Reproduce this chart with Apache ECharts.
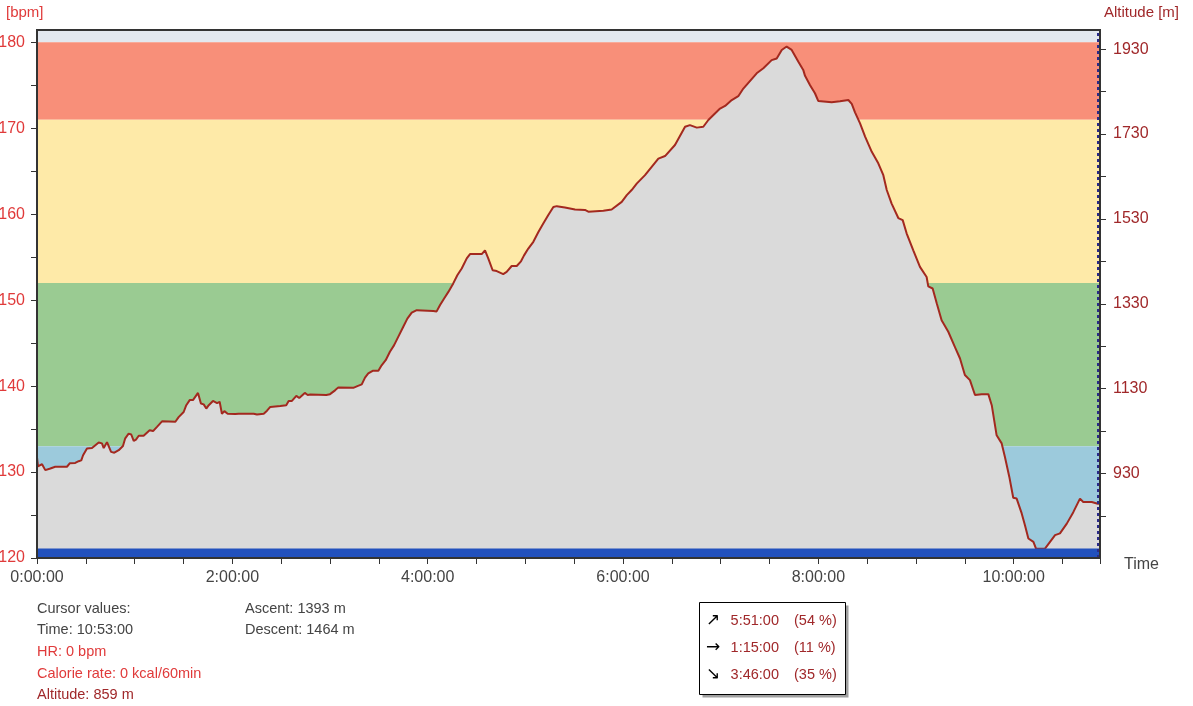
<!DOCTYPE html>
<html>
<head>
<meta charset="utf-8">
<script src="https://cdn.jsdelivr.net/npm/echarts@6/dist/echarts.min.js"></script>
<style>
html,body{margin:0;padding:0;background:#fff;}
#chart{width:1193px;height:706px;}
</style>
</head>
<body>
<div id="chart"></div>
<script>
// ---- data ----
const timeMin = [0,0.6,3.1,5.1,8.2,11.2,18.4,20.1,23.5,25.6,27.2,28.3,30.7,33.8,37.9,39.9,41.0,43.0,44.0,45.5,47.5,50.2,52.8,54.2,56.3,57.9,59.4,60.8,62.5,65.5,69.2,71.3,73.7,76.8,85.0,87.0,90.1,91.7,93.8,95.8,98.9,100.7,102.4,104.0,105.5,108.1,110.6,112.2,113.6,115.1,117.1,121.8,123.9,133.1,135.1,139.3,141.3,143.3,149.5,153.1,154.6,156.6,159.3,161.1,164.5,166.3,167.9,168.9,177.7,180.0,183.1,185.1,194.3,196.8,199.5,201.5,203.5,206.2,209.7,211.7,214.2,216.8,219.3,221.9,225.0,227.5,230.2,233.3,243.4,245.5,247.6,250.0,252.7,255.7,258.2,260.9,264.0,266.0,273.2,275.2,277.2,279.9,282.4,286.4,288.5,291.6,294.7,297.3,299.2,301.8,304.9,308.0,311.0,314.1,317.2,319.3,324.3,330.5,336.6,338.7,347.9,353.0,359.2,362.3,365.3,368.4,373.5,381.7,385.8,391.9,398.1,401.1,405.3,409.3,412.4,419.6,422.7,426.8,430.8,433.9,442.1,446.2,451.3,454.4,457.5,460.5,463.6,467.7,470.7,471.8,474.9,477.9,479.9,488.2,493.3,498.4,500.5,502.5,505.6,508.7,512.8,516.8,519.9,522.0,525.0,529.1,531.8,534.2,538.3,542.4,546.5,547.5,550.2,552.7,555.7,559.8,563.9,567.0,570.0,573.1,576.2,580.3,584.4,586.5,589.5,592.6,594.6,597.3,599.7,601.8,604.9,606.9,609.0,612.1,613.7,619.2,622.3,625.4,628.4,632.6,636.6,640.7,642.7,647.9,651.6,653];
const altitude = [968,947,952,938,942,946,946,954,955,959,961,973,989,990,1003,1001,990,1004,1003,981,979,985,995,1013,1024,1022,1007,1010,1019,1019,1032,1030,1040,1053,1052,1063,1075,1091,1103,1103,1120,1095,1093,1083,1091,1101,1096,1099,1071,1077,1071,1070,1071,1071,1069,1071,1078,1087,1089,1091,1101,1101,1113,1108,1120,1115,1116,1113,1115,1117,1126,1133,1132,1136,1140,1156,1166,1172,1172,1185,1197,1217,1232,1252,1276,1295,1309,1315,1313,1312,1327,1342,1358,1378,1397,1413,1437,1447,1447,1456,1437,1409,1407,1400,1405,1419,1419,1430,1444,1460,1476,1499,1519,1539,1558,1560,1557,1552,1551,1547,1549,1552,1570,1586,1598,1613,1633,1672,1678,1704,1747,1751,1745,1747,1763,1790,1796,1810,1819,1837,1873,1885,1904,1908,1928,1936,1928,1900,1881,1867,1845,1826,1808,1805,1807,1810,1801,1781,1755,1724,1688,1661,1633,1598,1566,1532,1527,1496,1456,1417,1393,1371,1366,1331,1291,1264,1228,1201,1162,1150,1115,1117,1117,1091,1020,1001,969,922,873,871,836,808,777,769,753,753,769,785,789,812,839,871,863,863,859,859];

const timeTicks = [0,30,60,90,120,150,180,210,240,270,300,330,360,390,420,450,480,510,540,570,600,630,653];
const timeLabels = [0,120,240,360,480,600];
const bpmTicks = [120,125,130,135,140,145,150,155,160,165,170,175,180];
const bpmLabels = [120,130,140,150,160,170,180];
const altTicks = [830,930,1030,1130,1230,1330,1430,1530,1630,1730,1830,1930];
const altLabels = [930,1130,1330,1530,1730,1930];

const zoneFrom = [180,171,152,133,121];
const zoneTo = [181.43,180,171,152,133];
const zoneColors = ['#e3e8ef','#f88f79','#feeaa8','#9acb92','#9ccadc'];
const bandFrom = 120, bandTo = 121.1, bandColor = '#2251bd';

const cursorTime = 651.8;

const infoLeft = [
  ['Cursor values:', '#444444'],
  ['Time: 10:53:00', '#444444'],
  ['HR: 0 bpm', '#e03a3a'],
  ['Calorie rate: 0 kcal/60min', '#e03a3a'],
  ['Altitude: 859 m', '#a0282a']
];
const infoRight = ['Ascent: 1393 m', 'Descent: 1464 m'];
const boxArrows = ['\u2197', '\u2192', '\u2198'];
const boxTimes = ['5:51:00', '1:15:00', '3:46:00'];
const boxPct = ['(54 %)', '(11 %)', '(35 %)'];

// ---- chart ----
const FONT = '"Liberation Sans", Arial, sans-serif';
const chart = echarts.init(document.getElementById('chart'), null, {renderer: 'canvas'});
const pad = n => (n < 10 ? '0' : '') + n;
const fmtTime = v => Math.floor(v / 60) + ':' + pad(Math.round(v % 60)) + ':00';

const data = timeMin.map((t, i) => [t, altitude[i]]);
const zoneAreas = zoneFrom.map((f, i) => [
  {yAxis: f, itemStyle: {color: zoneColors[i], opacity: 1}},
  {yAxis: zoneTo[i]}
]);

const graphics = [];
infoLeft.forEach((it, i) => {
  graphics.push({type: 'text', left: 37, top: 601 + i * 21.7,
    style: {text: it[0], fill: it[1], font: '14.5px ' + FONT}});
});
infoRight.forEach((t, i) => {
  graphics.push({type: 'text', left: 245, top: 601 + i * 21.7,
    style: {text: t, fill: '#444444', font: '14.5px ' + FONT}});
});
graphics.push({type: 'rect', shape: {x: 702.5, y: 605.5, width: 146, height: 92}, style: {fill: '#a0a0a0'}, z: 10});
graphics.push({type: 'rect', shape: {x: 699.5, y: 602.5, width: 146, height: 92}, style: {fill: '#ffffff', stroke: '#000000', lineWidth: 1}, z: 11});
boxArrows.forEach((a, i) => {
  const y = 621 + i * 27;
  graphics.push({type: 'text', x: 713, y: y, z: 12,
    style: {text: a, fill: '#000', font: '17px "DejaVu Sans", sans-serif', align: 'center', verticalAlign: 'middle'}});
  graphics.push({type: 'text', x: 779, y: y, z: 12,
    style: {text: boxTimes[i], fill: '#a0282a', font: '14.5px ' + FONT, align: 'right', verticalAlign: 'middle'}});
  graphics.push({type: 'text', x: 794, y: y, z: 12,
    style: {text: boxPct[i], fill: '#a0282a', font: '14.5px ' + FONT, align: 'left', verticalAlign: 'middle'}});
});
graphics.push({type: 'text', left: 6, top: 5, style: {text: '[bpm]', fill: '#e03a3a', font: '15px ' + FONT}});
graphics.push({type: 'text', left: 1104, top: 5, style: {text: 'Altitude [m]', fill: '#a0282a', font: '15px ' + FONT}});
graphics.push({type: 'text', left: 1124, top: 557, style: {text: 'Time', fill: '#444444', font: '16px ' + FONT}});

chart.setOption({
  animation: false,
  backgroundColor: '#ffffff',
  grid: {left: 37, right: 93, top: 30, bottom: 148, outerBoundsMode: 'none', containLabel: false,
         show: true, borderColor: '#333333', borderWidth: 2, backgroundColor: 'transparent', z: 10},
  xAxis: {
    type: 'value', min: 0, max: 653,
    axisLine: {show: true, lineStyle: {color: '#333', width: 2}},
    axisTick: {show: true, length: 6, lineStyle: {color: '#333', width: 1}, customValues: timeTicks},
    axisLabel: {customValues: timeLabels, formatter: fmtTime, color: '#444', fontSize: 16, fontFamily: FONT, margin: 12},
    splitLine: {show: false}
  },
  yAxis: [
    {
      type: 'value', min: 120, max: 181.43, position: 'left',
      axisLine: {show: true, lineStyle: {color: '#333', width: 2}},
      axisTick: {show: true, length: 6, lineStyle: {color: '#333', width: 1}, customValues: bpmTicks},
      axisLabel: {customValues: bpmLabels, formatter: v => String(v), color: '#e03a3a', fontSize: 16, fontFamily: FONT, margin: 12},
      splitLine: {show: false}
    },
    {
      type: 'value', min: 731, max: 1975, position: 'right',
      axisLine: {show: true, lineStyle: {color: '#333', width: 2}},
      axisTick: {show: true, length: 6, lineStyle: {color: '#333', width: 1}, customValues: altTicks},
      axisLabel: {customValues: altLabels, formatter: v => String(v), color: '#a0282a', fontSize: 16, fontFamily: FONT, margin: 13},
      splitLine: {show: false}
    }
  ],
  series: [
    {
      name: 'zones', type: 'line', yAxisIndex: 0, z: 1, silent: true,
      data: [[0, 120]], showSymbol: false, lineStyle: {width: 0, opacity: 0},
      markArea: {silent: true, z: 1, data: zoneAreas}
    },
    {
      name: 'Altitude', type: 'line', yAxisIndex: 1, z: 2, data: data,
      showSymbol: false, symbol: 'none',
      lineStyle: {color: '#a3291f', width: 2},
      areaStyle: {color: '#dadada', opacity: 1, origin: 'start'},
      markLine: {
        silent: true, symbol: 'none', label: {show: false}, z: 6,
        lineStyle: {color: '#2a2a8a', type: [3, 3], width: 2},
        data: [{xAxis: cursorTime}]
      }
    },
    {
      name: 'band', type: 'line', yAxisIndex: 0, z: 4, silent: true,
      data: [[0, 120]], showSymbol: false, lineStyle: {width: 0, opacity: 0},
      markArea: {silent: true, z: 4, data: [[{yAxis: bandFrom, itemStyle: {color: bandColor, opacity: 1}}, {yAxis: bandTo}]]}
    }
  ],
  graphic: graphics
});
</script>
</body>
</html>
